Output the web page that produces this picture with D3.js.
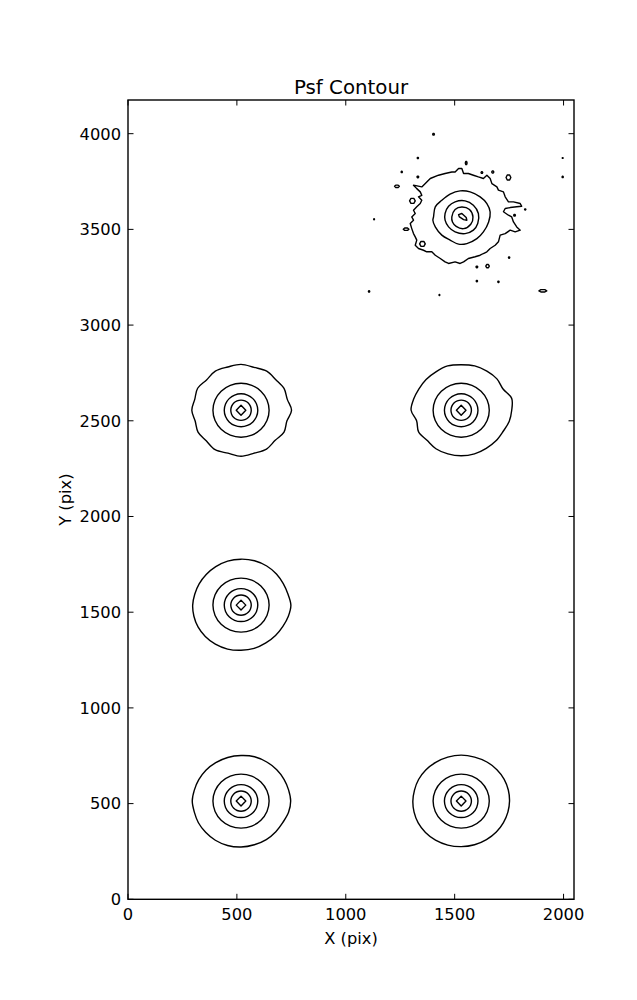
<!DOCTYPE html>
<html>
<head>
<meta charset="utf-8">
<script src="https://cdn.jsdelivr.net/npm/d3@7"></script>
<style>
  html, body { margin: 0; padding: 0; background: #fff; }
  svg { display: block; font-family: "DejaVu Sans", sans-serif; }
</style>
</head>
<body>
<svg id="chart" width="637" height="1000"></svg>
<script>
// ---- data (detector pixel units) ----
const xDomain = [0, 2048];
const yDomain = [0, 4176];
const xTicks = [0, 500, 1000, 1500, 2000];
const yTicks = [0, 500, 1000, 1500, 2000, 2500, 3000, 3500, 4000];

// regular PSF stars: centres
const starCenters = [[519, 513], [1530, 513], [519, 1537], [519, 2555], [1530, 2555]];
// outermost contour radius at 24 angles (0deg = +x, counter-clockwise, step 15deg)
const outerRadii = [
  [228, 226, 228, 232, 236, 240, 238, 236, 232, 228, 224, 222, 224, 222, 226, 230, 236, 240, 240, 236, 232, 226, 222, 226],
  [222, 224, 228, 232, 236, 238, 240, 238, 234, 230, 226, 222, 222, 224, 228, 232, 236, 238, 238, 236, 232, 228, 224, 222],
  [229, 223, 224, 230, 236, 240, 240, 238, 232, 226, 222, 220, 222, 224, 228, 232, 236, 238, 236, 234, 228, 224, 222, 225],
  [232, 220, 228, 226, 236, 232, 240, 234, 236, 224, 230, 220, 226, 218, 228, 226, 238, 232, 240, 232, 234, 222, 228, 218],
  [232, 240, 222, 232, 236, 240, 238, 240, 232, 228, 224, 226, 230, 212, 226, 222, 232, 236, 238, 236, 230, 226, 222, 228]
];
// inner contour half-widths [rx, ry]
const ringRadii = [[129, 141], [77, 86], [47, 53]];
const coreRadii = [22, 26];

// brightest star (upper right): contours traced as [x, y]
const topOuter = [[1311,3731],[1349,3722],[1372,3748],[1388,3766],[1426,3783],[1456,3792],[1487,3800],[1502,3800],[1518,3818],[1533,3818],[1541,3792],[1563,3792],[1586,3783],[1609,3774],[1632,3766],[1648,3783],[1663,3766],[1671,3739],[1694,3722],[1701,3705],[1724,3696],[1732,3670],[1747,3644],[1770,3644],[1801,3635],[1808,3621],[1785,3618],[1755,3614],[1732,3609],[1724,3592],[1747,3574],[1762,3565],[1770,3539],[1785,3513],[1801,3496],[1778,3487],[1755,3496],[1732,3478],[1709,3470],[1701,3435],[1686,3417],[1663,3400],[1648,3383],[1632,3374],[1617,3365],[1594,3357],[1563,3348],[1541,3330],[1525,3322],[1502,3330],[1472,3322],[1456,3330],[1434,3348],[1411,3365],[1395,3383],[1372,3383],[1357,3391],[1334,3400],[1319,3417],[1326,3444],[1319,3461],[1311,3478],[1303,3504],[1296,3531],[1311,3548],[1303,3565],[1319,3583],[1311,3600],[1326,3618],[1342,3635],[1349,3652],[1334,3670],[1349,3678],[1342,3696],[1326,3713]];
const topRing2 = [[1403,3565],[1411,3618],[1441,3652],[1479,3684],[1525,3701],[1571,3696],[1617,3670],[1648,3635],[1663,3591],[1656,3539],[1632,3487],[1602,3452],[1556,3426],[1518,3423],[1479,3444],[1441,3470],[1411,3513],[1400,3548]];
const topRing3 = [[1456,3583],[1472,3621],[1502,3644],[1548,3649],[1586,3626],[1609,3583],[1606,3531],[1586,3496],[1548,3478],[1502,3487],[1472,3513],[1456,3548]];
const topRing4 = [[1487,3565],[1502,3604],[1533,3617],[1568,3604],[1584,3565],[1574,3527],[1541,3504],[1507,3516],[1490,3539]];
const topCore = [[1518,3577],[1533,3583],[1553,3562],[1556,3548],[1541,3551],[1522,3565]];
// small noise islands: [x, y, rx, ry]
const speckles = [
  [1403,3997,4,5],[1331,3873,3,4],[1257,3800,3,4],[1331,3774,4,5],[1235,3725,11,7],
  [1553,3847,4,9],[1625,3797,4,5],[1675,3800,5,6],[1747,3771,11,15],[1996,3873,2,2],
  [1996,3774,3,4],[1306,3649,13,15],[1824,3604,3,3],[1775,3574,4,5],[1277,3501,13,7],
  [1352,3424,13,15],[1750,3353,3,4],[1651,3308,8,10],[1602,3304,4,5],[1602,3230,3,4],
  [1701,3226,3,4],[1430,3157,2,3],[1905,3179,18,7],[1107,3176,3,4],[1130,3553,2,3]
];

// ---- layout ----
const svg = d3.select("#chart");
const L = 128, R = 574, T = 100, B = 899.3;
const x = d3.scaleLinear().domain(xDomain).range([L, R]);
const y = d3.scaleLinear().domain(yDomain).range([B, T]);
const lineW = 1.4;

const g = svg.append("g");
const linear = d3.line().x(d => x(d[0])).y(d => y(d[1])).curve(d3.curveLinearClosed);
const smooth = d3.line().x(d => x(d[0])).y(d => y(d[1])).curve(d3.curveCatmullRomClosed.alpha(0.5));

function polar(c, radii) {
  const n = radii.length;
  return radii.map((r, i) => {
    const a = 2 * Math.PI * i / n;
    return [c[0] + r * Math.cos(a), c[1] + r * Math.sin(a)];
  });
}
function ellipse(c, rx, ry, n) {
  const pts = [];
  for (let i = 0; i < n; i++) {
    const a = 2 * Math.PI * i / n;
    pts.push([c[0] + rx * Math.cos(a), c[1] + ry * Math.sin(a)]);
  }
  return pts;
}

const paths = [];
starCenters.forEach((c, si) => {
  paths.push({ d: smooth(polar(c, outerRadii[si])) });
  ringRadii.forEach(rr => paths.push({ d: smooth(ellipse(c, rr[0], rr[1], 16)) }));
  paths.push({ d: linear(ellipse(c, coreRadii[0], coreRadii[1], 4)) });
});
paths.push({ d: linear(topOuter) });
paths.push({ d: smooth(topRing2) });
paths.push({ d: smooth(topRing3) });
paths.push({ d: smooth(topRing4) });
paths.push({ d: linear(topCore) });
speckles.forEach(s => paths.push({ d: linear(ellipse([s[0], s[1]], s[2], s[3], 6)) }));

g.selectAll("path.contour").data(paths).join("path")
  .attr("class", "contour")
  .attr("d", d => d.d)
  .attr("fill", "none")
  .attr("stroke", "#000")
  .attr("stroke-width", lineW)
  .attr("stroke-linejoin", "round");

// ---- axes frame ----
svg.append("rect").attr("x", L).attr("y", T).attr("width", R - L).attr("height", B - T)
  .attr("fill", "none").attr("stroke", "#000").attr("stroke-width", 1.4);

const tickLen = 5.5;
const tg = svg.append("g").attr("stroke", "#000").attr("stroke-width", 1);
xTicks.forEach(v => {
  tg.append("line").attr("x1", x(v)).attr("x2", x(v)).attr("y1", B).attr("y2", B - tickLen);
  tg.append("line").attr("x1", x(v)).attr("x2", x(v)).attr("y1", T).attr("y2", T + tickLen);
});
yTicks.forEach(v => {
  tg.append("line").attr("x1", L).attr("x2", L + tickLen).attr("y1", y(v)).attr("y2", y(v));
  tg.append("line").attr("x1", R).attr("x2", R - tickLen).attr("y1", y(v)).attr("y2", y(v));
});

const fs = 16.3;
svg.append("g").selectAll("text").data(xTicks).join("text")
  .attr("x", d => x(d)).attr("y", 920)
  .attr("text-anchor", "middle").attr("font-size", fs).text(d => d);
svg.append("g").selectAll("text").data(yTicks).join("text")
  .attr("x", 121).attr("y", d => y(d)).attr("dy", "0.36em")
  .attr("text-anchor", "end").attr("font-size", fs).text(d => d);

svg.append("text").attr("x", (L + R) / 2).attr("y", 944)
  .attr("text-anchor", "middle").attr("font-size", fs).text("X (pix)");
svg.append("text").attr("transform", `translate(70.5,${(T + B) / 2}) rotate(-90)`)
  .attr("text-anchor", "middle").attr("font-size", fs).text("Y (pix)");
svg.append("text").attr("x", (L + R) / 2).attr("y", 94)
  .attr("text-anchor", "middle").attr("font-size", 19.8).text("Psf Contour");
</script>
</body>
</html>
